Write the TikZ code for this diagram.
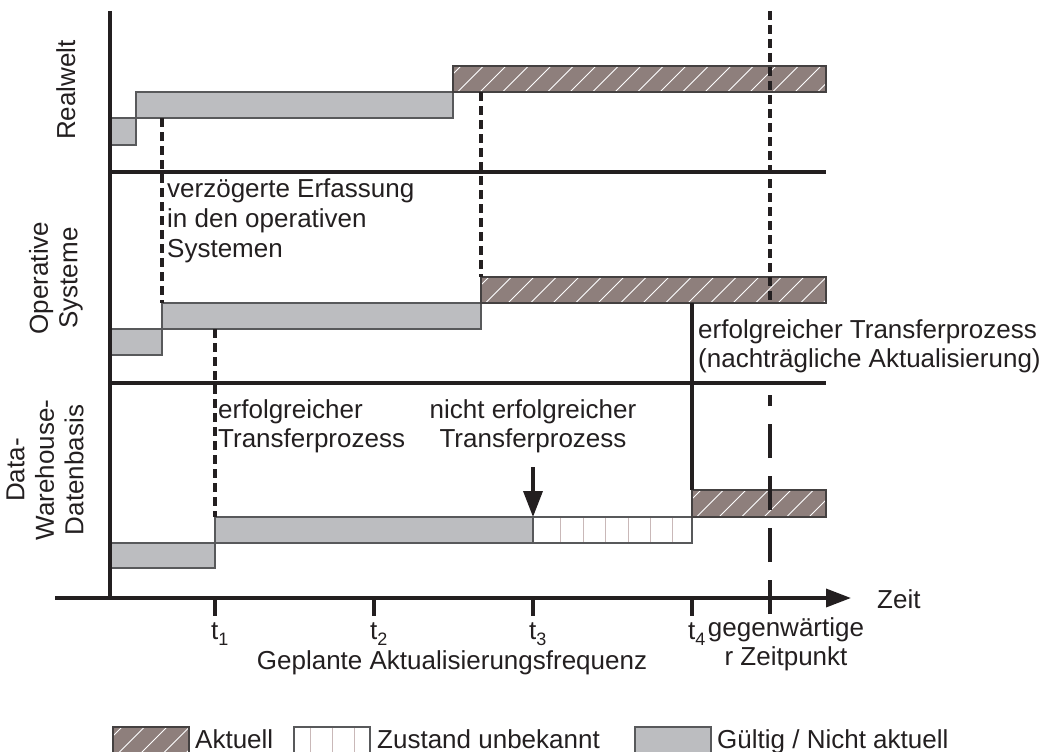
\documentclass[tikz,border=0pt]{standalone}
\usepackage{fontspec}
\setmainfont{Liberation Sans}
\usetikzlibrary{arrows.meta}

\definecolor{ink}{HTML}{231F20}
\definecolor{validfill}{HTML}{BCBDC0}
\definecolor{validedge}{HTML}{58595B}
\definecolor{currentfill}{HTML}{8E7F7C}
\definecolor{unkline}{HTML}{C9B8B8}

\tikzset{
  txt/.style={font=\fontsize{26}{29.5}\selectfont, inner sep=0pt, text=ink},
  sidelabel/.style={txt, rotate=90, align=center},
  axisline/.style={ink, line width=3.5pt},
  lane/.style={ink, line width=3.5pt},
  lagline/.style={ink, line width=3.5pt, dash pattern=on 9pt off 5pt},
  nowline/.style={ink, line width=3.5pt, dash pattern=on 34pt off 18pt},
  tickmark/.style={ink, line width=3.5pt},
  validbar/.style={fill=validfill, draw=validedge, line width=1.3pt},
  edgebar/.style={draw=ink!85, line width=1.3pt},
  hatchline/.style={white, line width=0.9pt},
}

% grey bar: valid but not current
\newcommand\validbox[4]{\filldraw[validbar] (#1,#2) rectangle (#3,#4);}
% hatched bar: current state
\newcommand\currentbox[4]{%
  \fill[currentfill] (#1,#2) rectangle (#3,#4);
  \begin{scope}
    \clip (#1,#2) rectangle (#3,#4);
    \foreach \hx in {0,22.5,...,450}
      \draw[hatchline] ({#1+\hx-20},{#4+2}) -- ++(34,-34);
  \end{scope}
  \draw[edgebar] (#1,#2) rectangle (#3,#4);}
% white bar with thin dividers: state unknown
% #5 = position of the first divider, #6 = number of dividers
\newcommand\unknownbox[6]{%
  \fill[white] (#1,#2) rectangle (#3,#4);
  \foreach \ux in {1,...,#6}
    \draw[unkline, line width=0.8pt] ({#5+22.4*(\ux-1)},#2) -- ({#5+22.4*(\ux-1)},#4);
  \draw[validedge, line width=1.3pt] (#1,#2) rectangle (#3,#4);}

\begin{document}
\begin{tikzpicture}[x=1pt,y=-1pt]
\useasboundingbox (0,0) rectangle (1044,752);

% ---------- lanes: Realwelt ----------
\validbox{110}{118}{136}{145}
\validbox{136}{92}{453}{118}
\currentbox{453}{66}{826}{92}

% ---------- lanes: operative Systeme ----------
\validbox{110}{329}{162}{355}
\validbox{162}{303}{481}{329}
\currentbox{481}{277}{826}{303}

% ---------- lanes: Data-Warehouse ----------
\validbox{110}{543}{215}{568}
\validbox{215}{517}{533}{543}
\unknownbox{533}{517}{692}{543}{560.7}{6}
\currentbox{692}{490}{826}{517}

% ---------- axes and lane separators ----------
\coordinate (yTop) at (110,11);
\coordinate (origin) at (110,598);
\coordinate (xStart) at (55,598);
\coordinate (xEnd) at (851,598);
\draw[axisline] (yTop) -- (origin);
\draw[axisline, -{Triangle[length=25pt,width=18pt]}] (xStart) -- (xEnd);
\draw[lane] (110,172) -- (826,172);
\draw[lane] (110,383) -- (826,383);

% ---------- propagation lines ----------
\coordinate (rwStart) at (162,118);
\coordinate (osStart) at (162,303);
\draw[lagline] (rwStart) -- (osStart);
\coordinate (rwNew) at (481,92);
\coordinate (osNew) at (481,277);
\draw[lagline] (rwNew) -- (osNew);
\coordinate (osOld) at (215,329);
\coordinate (dwOld) at (215,517);
\draw[lagline] (osOld) -- (dwOld);
\coordinate (osLate) at (692,303);
\coordinate (dwLate) at (692,490);
\draw[axisline] (osLate) -- (dwLate);

% failed transfer arrow
\coordinate (failFrom) at (533,467);
\coordinate (failTo) at (533,517);
\draw[ink, line width=3.5pt, -{Triangle[length=26pt,width=19pt]}] (failFrom) -- (failTo);

% present moment
\coordinate (nowTop) at (770,11);
\coordinate (nowMid) at (770,303);
\coordinate (nowLow) at (770,395);
\coordinate (nowBot) at (770,614);
\draw[lagline] (nowTop) -- (nowMid);
\draw[nowline] (nowBot) -- (nowLow);

% ---------- ticks ----------
\foreach \tx/\tn in {215/1,374/2,533/3,692/4}{
  \draw[tickmark] (\tx,598) -- (\tx,616);
  \node[txt, anchor=base west] (tick\tn) at (\tx-4,639)
    {t\raisebox{-0.26em}{\fontsize{18}{18}\selectfont\tn}};
}

% ---------- labels ----------
\node[txt, anchor=base west] (lagA) at (167,197) {verzögerte Erfassung};
\node[txt, anchor=base west] (lagB) at (167,227) {in den operativen};
\node[txt, anchor=base west] (lagC) at (167,257) {Systemen};

\node[txt, anchor=base west] (okA) at (218,418) {erfolgreicher};
\node[txt, anchor=base west] (okB) at (218,447) {Transferprozess};

\node[txt, anchor=base] (failA) at (533,418) {nicht erfolgreicher};
\node[txt, anchor=base] (failB) at (533,447) {Transferprozess};

\node[txt, anchor=base west] (lateA) at (698,338) {erfolgreicher Transferprozess};
\node[txt, anchor=base west] (lateB) at (698,367) {(nachträgliche Aktualisierung)};

\node[txt, anchor=base west] (zeit) at (877,608) {Zeit};
\node[txt, anchor=base] (nowA) at (786,636) {gegenwärtige};
\node[txt, anchor=base] (nowB) at (786,665) {r Zeitpunkt};
\node[txt, anchor=base] (freq) at (452,669) {Geplante Aktualisierungsfrequenz};

% lane titles
\node[sidelabel, anchor=base] (realwelt) at (75,90) {Realwelt};
\node[sidelabel] (operative) at (56,278) {Operative\\Systeme};
\node[sidelabel] (dwh) at (45,470) {Data-\\Warehouse-\\Datenbasis};

% ---------- legend ----------
\currentbox{113}{727}{189}{754}
\node[txt, anchor=base west] (legCur) at (195,748) {Aktuell};
\unknownbox{294}{727}{370}{754}{310}{3}
\node[txt, anchor=base west] (legUnk) at (377,748) {Zustand unbekannt};
\validbox{635}{727}{711}{754}
\node[txt, anchor=base west] (legVal) at (717,748) {Gültig / Nicht aktuell};
\end{tikzpicture}
\end{document}
